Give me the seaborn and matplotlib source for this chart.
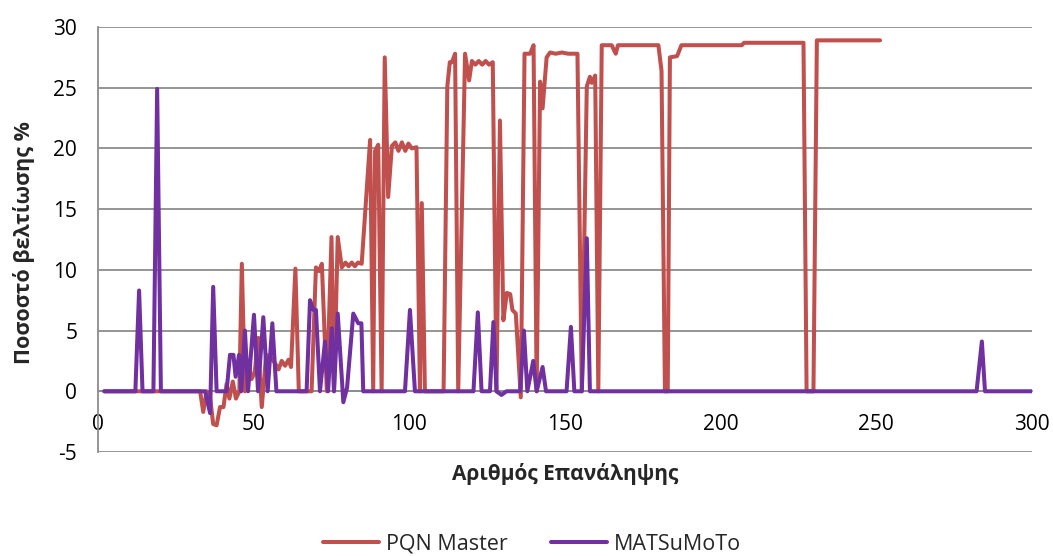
import matplotlib
matplotlib.use("Agg")
import matplotlib.pyplot as plt
import seaborn as sns
import pandas as pd

# PQN Master series (iteration, improvement %)
pqn_x = [2, 32.8, 33.8, 34.9, 36, 37, 38.1, 39.2, 40.3, 41.3, 42.2, 43.3, 44.3, 45.4,
         46.2, 47.2, 48.3, 49.3, 50.3, 51.5, 52, 52.6, 54, 55.4, 56.9, 58, 59, 60.1,
         61.2, 62, 63.4, 64.5, 68.6, 70, 71, 71.9, 73.5, 75, 75.8, 77, 78.3, 79.5,
         80.5, 81.5, 82.5, 83.5, 84.7, 87.4, 88.4, 89, 90, 91.1, 92.1, 93.2, 94.4,
         95.5, 96.5, 97.6, 98.7, 99.7, 100.8, 102.3, 103.4, 104, 105, 111, 112.2, 113,
         113.7, 114.7, 115.7, 117.9, 119.2, 120.1, 121.2, 122.3, 123.4, 124.5, 125.6,
         126.8, 128, 129.1, 130.2, 131.3, 132.4, 133.1, 134.2, 135.8, 137, 138.8,
         139.9, 140.9, 142, 142.8, 144.1, 145.2, 147, 149, 151, 154, 155.4, 157, 158,
         158.6, 159.7, 160.7, 161.8, 165, 166.3, 167, 180, 181, 182.1, 183, 183.7,
         186, 187.4, 206.8, 207.5, 226.6, 227.6, 229.8, 230.9, 251.2]
pqn_y = [0, 0, -1.7, 0, -0.5, -2.7, -2.8, -1.3, -1.3, 0.6, -0.6, 0.8, -0.6, 0,
         10.5, 0, 2.5, 1.0, 1.5, 4.4, 1.2, -1.3, 3.0, 2.8, 2.3, 1.8, 2.5, 2.1,
         2.6, 2.0, 10.1, 0, 0, 10.2, 9.9, 10.5, 0, 12.7, 0, 12.7, 10.2, 10.6,
         10.3, 10.6, 10.3, 10.6, 10.5, 20.7, 0, 19.8, 20.3, 0, 27.5, 16.0, 20.2,
         20.5, 19.8, 20.5, 19.8, 20.4, 20.0, 20.1, 0, 15.5, 0, 0, 25.1, 27.1,
         27.1, 27.8, 0, 27.8, 25.6, 27.2, 26.9, 27.2, 26.9, 27.2, 26.9,
         27.1, 0, 22.3, 5.85, 8.1, 8.0, 6.7, 6.4, -0.5, 27.8, 27.8,
         28.5, 0, 25.5, 23.3, 27.5, 27.9, 27.8, 27.9, 27.8, 27.8, 0, 25.1, 25.9,
         25.4, 26.0, 0, 28.5, 28.5, 27.8, 28.5, 28.5, 26.4, 0, 0, 27.5,
         27.6, 28.5, 28.5, 28.7, 28.7, 0, 0, 28.9, 28.9]

# MATSuMoTo series
mat_x = [2, 12, 13.2, 14.3, 17.8, 19, 20.2, 34.4, 36, 37, 38.1, 41.3, 42.4, 43.5,
         44.2, 45.3, 46, 47.2, 48.2, 50.1, 51.4, 53.1, 54.5, 56, 57.3, 67, 68.1,
         69.2, 70, 71.3, 72.9, 73.9, 75.1, 75.8, 77, 78.8, 80, 82, 83.6, 84.6, 85.2,
         98.6, 100.2, 101.8, 120.6, 122, 123.2, 125.9, 127, 128, 129.6, 131.2, 135.6,
         136.8, 137.9, 139.8, 140.9, 142.8, 143.9, 150.5, 151.9, 153, 155.4, 157,
         158, 282.2, 283.9, 284.9, 300]
mat_y = [0, 0, 8.3, 0, 0, 24.9, 0, 0, -1.8, 8.6, 0, 0, 3.0, 3.0,
         1.2, 3.0, 0, 5.0, 0, 6.3, 0, 6.1, 0, 5.6, 0, 0, 7.5,
         6.7, 6.7, 0, 4.1, 0, 5.2, 0, 6.4, -0.9, 0.3, 6.4, 5.6, 5.6, 0,
         0, 6.7, 0, 0, 6.5, 0, 0, 5.7, 0, -0.3, 0, 0,
         5.0, 0, 2.5, 0, 2.0, 0, 0, 5.3, 0, 0, 12.6,
         0, 0, 4.1, 0, 0]

series_names = ["PQN Master", "MATSuMoTo"]
colors = ["#C0504D", "#7030A0"]
y_ticks = [-5, 0, 5, 10, 15, 20, 25, 30]
x_ticks = [0, 50, 100, 150, 200, 250, 300]
x_label = "Αριθμός Επανάληψης"
y_label = "Ποσοστό βελτίωσης %"

sns.set_style("white")
plt.rcParams["font.family"] = ["Open Sans", "DejaVu Sans"]
plt.rcParams["axes.unicode_minus"] = False

fig = plt.figure(figsize=(10.53, 5.56), dpi=100)
ax = fig.add_axes([98 / 1053, 104 / 556, 934 / 1053, 425 / 556])

grid_c = "#8C8C8C"
for yt in y_ticks:
    ax.axhline(yt, color=grid_c, lw=1.3, zorder=0)

df_p = pd.DataFrame({"x": pqn_x, "y": pqn_y})
df_m = pd.DataFrame({"x": mat_x, "y": mat_y})
sns.lineplot(data=df_p, x="x", y="y", sort=False, color=colors[0], lw=2.9,
             ax=ax, label=series_names[0], zorder=3)
sns.lineplot(data=df_m, x="x", y="y", sort=False, color=colors[1], lw=2.9,
             ax=ax, label=series_names[1], zorder=4)

ax.set_xlim(0, 300)
ax.set_ylim(-5, 30)
ax.set_xticks(x_ticks)
ax.set_yticks(y_ticks)

for s in ["top", "right"]:
    ax.spines[s].set_visible(False)
ax.spines["bottom"].set_position(("data", 0))
ax.spines["bottom"].set_color(grid_c)
ax.spines["bottom"].set_linewidth(1.3)
ax.spines["left"].set_color(grid_c)
ax.spines["left"].set_linewidth(1.3)

ax.tick_params(axis="x", direction="out", length=5, width=1.3, color=grid_c,
               pad=11, labelsize=15, labelcolor="black")
ax.tick_params(axis="y", direction="out", length=6, width=1.3, color=grid_c,
               pad=9, labelsize=15, labelcolor="black")
ax.set_xlabel("")
ax.set_ylabel("")

fig.text(565 / 1053, 1 - 474 / 556, x_label, ha="center", va="center",
         fontsize=15, fontweight="bold")
fig.text(24 / 1053, 1 - 243 / 556, y_label, ha="center", va="center",
         rotation=90, fontsize=15.5, fontweight="bold")

ax.get_legend().remove()
handles, labels = ax.get_legend_handles_labels()
fig.legend(handles, labels, loc="center", bbox_to_anchor=(532 / 1053, 1 - 544 / 556),
           ncol=2, frameon=False, fontsize=15.5, handlelength=2.6,
           handletextpad=0.35, columnspacing=2.0)

fig.savefig("out.png", dpi=100)
